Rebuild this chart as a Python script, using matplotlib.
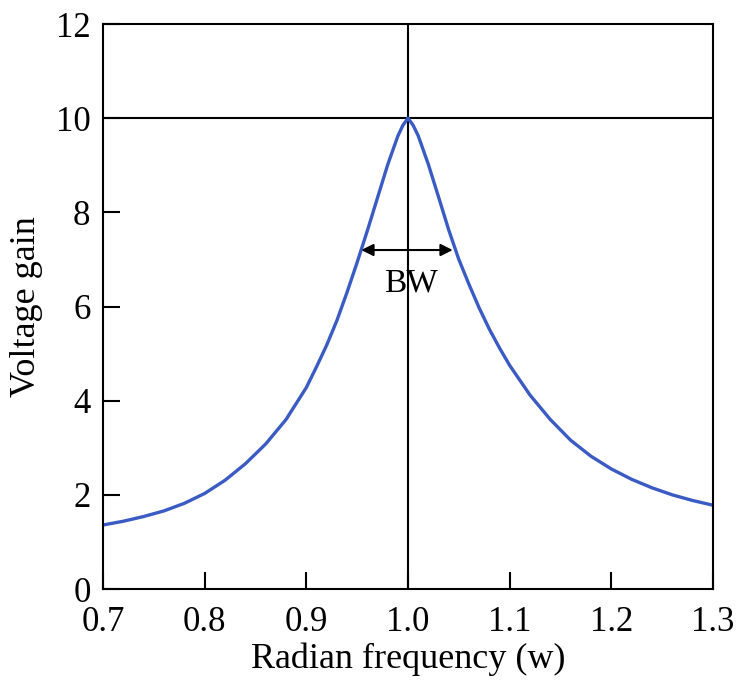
import matplotlib
matplotlib.use("Agg")
import matplotlib.pyplot as plt

# resonance curve
freq = [0.70, 0.72, 0.74, 0.76, 0.78, 0.80, 0.82, 0.84, 0.86, 0.88,
        0.90, 0.91, 0.92, 0.93, 0.94, 0.95, 0.96, 0.97, 0.98, 0.99, 0.995,
        1.00,
        1.005, 1.01, 1.02, 1.03, 1.04, 1.05, 1.06, 1.07, 1.08, 1.09, 1.10,
        1.12, 1.14, 1.16, 1.18, 1.20, 1.22, 1.24, 1.26, 1.28, 1.30]
gain = [1.36, 1.44, 1.54, 1.66, 1.82, 2.03, 2.31, 2.66, 3.08, 3.60,
        4.28, 4.72, 5.18, 5.70, 6.30, 6.94, 7.61, 8.31, 9.01, 9.62, 9.85,
        10.0,
        9.85, 9.63, 9.02, 8.33, 7.63, 7.00, 6.47, 5.97, 5.52, 5.12, 4.75,
        4.12, 3.60, 3.16, 2.82, 2.55, 2.33, 2.15, 2.00, 1.88, 1.78]

x_ticks = [0.7, 0.8, 0.9, 1.0, 1.1, 1.2, 1.3]
x_labels = ["0.7", "0.8", "0.9", "1.0", "1.1", "1.2", "1.3"]
y_ticks = [0, 2, 4, 6, 8, 10, 12]

peak_w = 1.0
peak_gain = 10
bw_lo, bw_hi, bw_level = 0.954, 1.044, 7.2

plt.rcParams['font.family'] = ['Liberation Serif', 'DejaVu Serif']

fig = plt.figure(figsize=(7.38, 6.92), dpi=100)
ax = fig.add_axes([0.1396, 0.1488, 0.8265, 0.8165])

ax.axvline(peak_w, color='black', lw=1.5)
ax.axhline(peak_gain, color='black', lw=1.5)
ax.plot(freq, gain, color='#3b5bc4', lw=2.4, solid_joinstyle='round')

ax.annotate('', xy=(bw_lo, bw_level), xytext=(bw_hi, bw_level),
            arrowprops=dict(arrowstyle='<|-|>', color='black', lw=1.5,
                            mutation_scale=18, shrinkA=0, shrinkB=0))
ax.text(1.003, 6.5, 'BW', fontsize=24, ha='center', va='center')

ax.set_xlim(0.7, 1.3)
ax.set_ylim(0, 12)
ax.set_xticks(x_ticks)
ax.set_xticklabels(x_labels)
ax.set_yticks(y_ticks)
ax.tick_params(direction='in', length=12, width=1.5, labelsize=25)
ax.tick_params(axis='y', pad=9)
ax.tick_params(axis='x', pad=12)
for s in ax.spines.values():
    s.set_linewidth(1.5)

ax.set_xlabel('Radian frequency (w)', fontsize=26, labelpad=3)
ax.set_ylabel('Voltage gain', fontsize=26, labelpad=9)

fig.savefig('out.png', dpi=100)
